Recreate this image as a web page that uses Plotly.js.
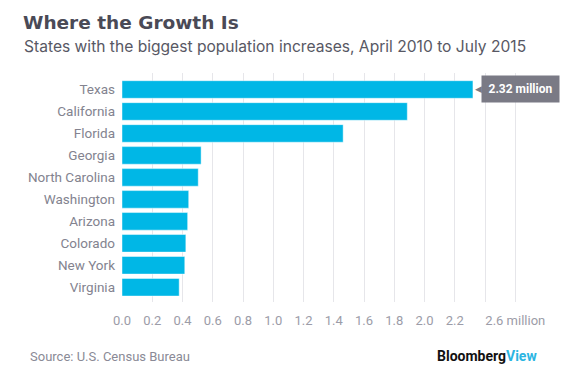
<!DOCTYPE html>
<html>
<head>
<meta charset="utf-8">
<script src="https://cdn.plot.ly/plotly-3.0.1.min.js"></script>
<style>
html,body{margin:0;padding:0;background:#fff;}
#chart{width:583px;height:373px;}
</style>
</head>
<body>
<div id="chart"></div>
<script>
// Data
var states = ["Texas","California","Florida","Georgia","North Carolina","Washington","Arizona","Colorado","New York","Virginia"];
var increase = [2.32, 1.886, 1.462, 0.523, 0.504, 0.441, 0.434, 0.422, 0.415, 0.378]; // millions
var tickValues = [0,0.2,0.4,0.6,0.8,1.0,1.2,1.4,1.6,1.8,2.0,2.2,2.4,2.6];
var tickLabels = ["0.0","0.2","0.4","0.6","0.8","1.0","1.2","1.4","1.6","1.8","2.0","2.2","","2.6 million"];
var titleText = "Where the Growth Is";
var subtitleText = "States with the biggest population increases, April 2010 to July 2015";
var sourceText = "Source: U.S. Census Bureau";
var calloutText = "2.32 million";

var W = 583, H = 373;
var ml = 122, mr = 45, mt = 73, mb = 71;
var plotW = W - ml - mr, plotH = H - mt - mb;
function pxX(px){ return (px - ml) / plotW; }
function pxY(py){ return (H - mb - py) / plotH; }

var FONT = "Roboto, 'Liberation Sans', sans-serif";
var WIDE = "Inter, 'Open Sans', sans-serif";

var trace = {
  type: "bar",
  orientation: "h",
  x: increase,
  y: states,
  marker: {color: "#00b7e6", line: {color: "rgba(255,255,255,0.45)", width: 1}},
  hoverinfo: "none",
  cliponaxis: false
};

var layout = {
  width: W, height: H,
  margin: {l: ml, r: mr, t: mt, b: mb, pad: 0},
  paper_bgcolor: "#ffffff",
  plot_bgcolor: "#ffffff",
  showlegend: false,
  bargap: 0.2,
  font: {family: FONT, color: "#8a8a96", size: 13},
  title: {
    text: titleText,
    font: {family: "'DejaVu Sans', sans-serif", size: 18.5, color: "#4a4a56", weight: "bold"},
    xref: "container", yref: "container",
    x: 23/W, xanchor: "left",
    y: 1 - 23/H, yanchor: "middle"
  },
  xaxis: {
    range: [0, 2.75],
    tickmode: "array",
    tickvals: tickValues,
    ticktext: tickLabels,
    showgrid: true,
    gridcolor: "#e6e6ea",
    gridwidth: 1,
    zeroline: false,
    showline: false,
    ticks: "",
    tickfont: {family: FONT, size: 13, color: "#9c9ca8"},
    ticklabelstandoff: 9,
    fixedrange: true
  },
  yaxis: {
    type: "category",
    range: [9.67, -0.75],
    showgrid: false,
    zeroline: false,
    showline: false,
    ticks: "",
    tickfont: {family: FONT, size: 13.5, color: "#83838f"},
    ticklabelstandoff: 6,
    fixedrange: true
  },
  annotations: [
    {
      xref: "paper", yref: "paper",
      x: pxX(22), y: pxY(46),
      xanchor: "left", yanchor: "middle",
      text: subtitleText, showarrow: false,
      font: {family: WIDE, size: 15.6, color: "#585864"}
    },
    {
      xref: "paper", yref: "paper",
      x: pxX(28), y: pxY(356),
      xanchor: "left", yanchor: "middle",
      text: sourceText, showarrow: false,
      font: {family: FONT, size: 13, color: "#8a8a96"}
    },
    {
      xref: "paper", yref: "paper",
      x: pxX(539), y: pxY(356),
      xanchor: "right", yanchor: "middle",
      text: "<b><span style='color:#111111'>Bloomberg</span><span style='color:#2bb5e2'>View</span></b>",
      showarrow: false,
      font: {family: FONT, size: 14}
    },
    {
      xref: "x", yref: "y",
      x: increase[0], y: states[0],
      xanchor: "left", yanchor: "middle",
      xshift: 8,
      text: "<b>" + calloutText + "</b>",
      showarrow: false,
      bgcolor: "#7a7a85",
      borderpad: 4,
      width: 69, height: 18,
      font: {family: FONT, size: 12, color: "#ffffff"}
    },
    {
      xref: "x", yref: "y",
      x: increase[0], y: states[0],
      xanchor: "left", yanchor: "middle",
      xshift: 0,
      text: "◀",
      showarrow: false,
      font: {family: "DejaVu Sans, sans-serif", size: 9, color: "#7a7a85"}
    }
  ]
};

Plotly.newPlot("chart", [trace], layout, {displayModeBar: false, staticPlot: true});
</script>
</body>
</html>
